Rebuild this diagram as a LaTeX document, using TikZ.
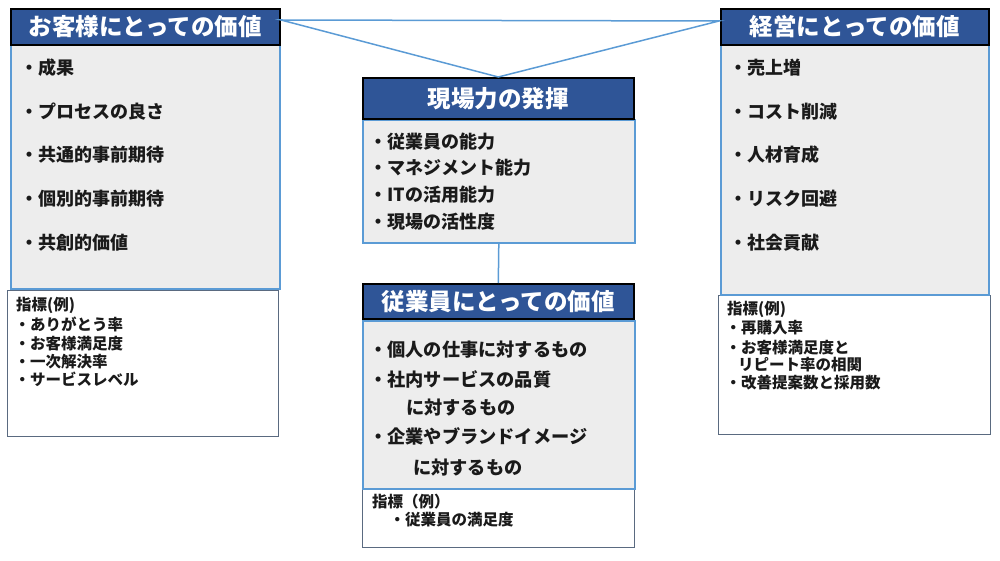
\documentclass[tikz,border=0pt]{standalone}
\usepackage{fontspec}
\newfontfamily\jp{Noto Sans CJK JP}
\definecolor{hdrblue}{HTML}{2F5597}
\definecolor{bodyfill}{HTML}{EDEDED}
\definecolor{blueline}{HTML}{5B9BD5}
\definecolor{idxline}{HTML}{5A6A80}
\definecolor{txt}{HTML}{1A1A1A}
\tikzset{
  hdr/.style={draw=black, line width=1.6bp, fill=hdrblue, text=white, anchor=north west, inner sep=0pt,
    font=\jp\bfseries\fontsize{23.5bp}{26bp}\selectfont},
  bodybox/.style={draw=blueline, line width=1.6bp, fill=bodyfill, anchor=north west, inner sep=0pt},
  idxbox/.style={draw=idxline, line width=1bp, fill=white, anchor=north west, inner sep=0pt},
  conn/.style={draw=blueline, line width=1.5bp},
  item/.style={anchor=west, inner sep=0pt, text=txt, text height=0.88em, text depth=0.12em, yshift=-3bp,
    font=\jp\bfseries\fontsize{18bp}{20bp}\selectfont},
  itemb/.style={item, font=\jp\bfseries\fontsize{18.2bp}{20bp}\selectfont},
  idx/.style={item, yshift=1bp, font=\jp\bfseries\fontsize{15.5bp}{18bp}\selectfont},
}
\begin{document}
\begin{tikzpicture}[x=1bp,y=-1bp]
\useasboundingbox (0,0) rectangle (1000,561);
% boxes
\node[idxbox, minimum width=271bp, minimum height=146bp] (i1) at (7,290) {};
\node[idxbox, minimum width=272bp, minimum height=59bp] (i3) at (362,488) {};
\node[idxbox, minimum width=272bp, minimum height=139bp] (i4) at (718,295) {};
\node[bodybox, minimum width=269bp, minimum height=244bp] (b1) at (10,44) {};
\node[bodybox, minimum width=272bp, minimum height=123bp] (b2) at (362,119) {};
\node[bodybox, minimum width=272bp, minimum height=168bp] (b3) at (362,320) {};
\node[bodybox, minimum width=268bp, minimum height=250bp] (b4) at (720,44) {};
\node[hdr, minimum width=269bp, minimum height=36bp] (h1) at (10,8) {お客様にとっての価値};
\node[hdr, minimum width=271bp, minimum height=41bp] (h2) at (362,77) {現場力の発揮};
\node[hdr, minimum width=271bp, minimum height=35bp] (h3) at (362,283) {従業員にとっての価値};
\node[hdr, minimum width=268bp, minimum height=36bp] (h4) at (720,8) {経営にとっての価値};
% connectors
\coordinate (tl) at (281,20);
\coordinate (tr) at (719,21);
\draw[conn] (tl) -- (tr) -- (h2.north) -- cycle;
\draw[conn] (b2.south) -- (h3.north);
% left body
\node[item] (l1) at (20.5,68) {・成果};
\node[item] (l2) at (20.5,112) {・プロセスの良さ};
\node[item] (l3) at (20.5,155) {・共通的事前期待};
\node[item] (l4) at (20.5,199) {・個別的事前期待};
\node[item] (l5) at (20.5,243) {・共創的価値};
% left index
\node[idx] (li0) at (16,305) {指標(例)};
\node[idx] (li1) at (14.5,325) {・ありがとう率};
\node[idx] (li2) at (14.5,344) {・お客様満足度};
\node[idx] (li3) at (14.5,362) {・一次解決率};
\node[idx] (li4) at (14.5,380) {・サービスレベル};
% middle top
\node[item] (m1) at (369,142) {・従業員の能力};
\node[item] (m2) at (369,168) {・マネジメント能力};
\node[item] (m3) at (369,195) {・ITの活用能力};
\node[item] (m4) at (369,222) {・現場の活性度};
% middle bottom
\node[itemb] (e1) at (369,350) {・個人の仕事に対するもの};
\node[itemb] (e2) at (369,380) {・社内サービスの品質};
\node[itemb] (e3) at (406,408) {に対するもの};
\node[itemb] (e4) at (369,437) {・企業やブランドイメージ};
\node[itemb] (e5) at (413,468) {に対するもの};
% middle index
\node[idx] (ei0) at (372,502) {指標（例）};
\node[idx] (ei1) at (389.5,520) {・従業員の満足度};
% right body
\node[item] (r1) at (729,68) {・売上増};
\node[item] (r2) at (729,112) {・コスト削減};
\node[item] (r3) at (729,155) {・人材育成};
\node[item] (r4) at (729,199) {・リスク回避};
\node[item] (r5) at (729,243) {・社会貢献};
% right index
\node[idx] (ri0) at (727,309) {指標(例)};
\node[idx] (ri1) at (725.5,328) {・再購入率};
\node[idx] (ri2) at (725.5,348) {・お客様満足度と};
\node[idx] (ri3) at (738,365) {リピート率の相関};
\node[idx] (ri4) at (725.5,383) {・改善提案数と採用数};
\end{tikzpicture}
\end{document}
